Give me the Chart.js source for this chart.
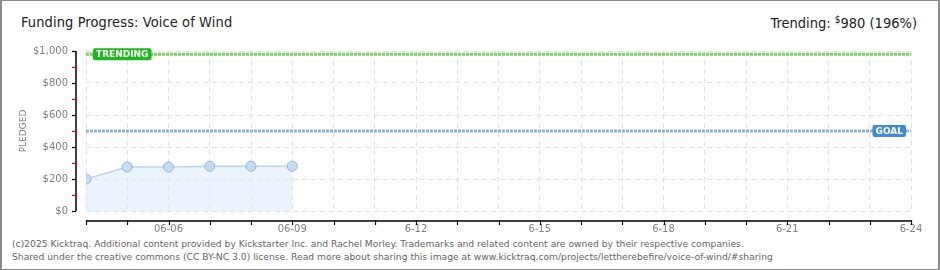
<!DOCTYPE html>
<html>
<head>
<meta charset="utf-8">
<script src="https://cdn.jsdelivr.net/npm/chart.js@4"></script>
<style>
    html, body { margin: 0; padding: 0; background: #fff; }
    #frame { position: relative; border: 1px solid #8a8a8a; border-left-width: 2px; border-right-width: 2px; box-sizing: border-box; width: 940px; height: 270px; }
    #title { position: absolute; left: 19px; top: 13px; font: 14.5px "Liberation Sans Narrow", "DejaVu Sans Condensed", sans-serif; color: #222; letter-spacing: 0.1px; }
    #trend { position: absolute; right: 21px; top: 13px; font: 14.5px "Liberation Sans Narrow", "DejaVu Sans Condensed", sans-serif; color: #222; }
    #trend sup { font-size: 10px; vertical-align: 5px; }
    #footer { position: absolute; left: 10px; top: 236px; font: 9.2px "DejaVu Sans", Verdana, sans-serif; color: #666; line-height: 13px; }
    #wrap { position: absolute; left: 0; top: 26px; width: 936px; height: 209px; }
</style>
</head>
<body>
<div id="frame">
    <div id="title">Funding Progress: Voice of Wind</div>
    <div id="trend">Trending: <sup>$</sup>980 (196%)</div>
    <div id="wrap"><canvas id="fundingChart"></canvas></div>
    <div id="footer">(c)2025 Kicktraq. Additional content provided by Kickstarter Inc. and Rachel Morley. Trademarks and related content are owned by their respective companies.<br>Shared under the creative commons (CC BY-NC 3.0) license. Read more about sharing this image at www.kicktraq.com/projects/lettherebefire/voice-of-wind/#sharing</div>
</div>
<script>
// days of June
const days = [4, 5, 6, 7, 8, 9];
const pledged = [200, 275, 275, 280, 280, 280];
const goal = 500;
const trending = 980;
const firstDay = 4;
const lastDay = 24;
const xTickLabels = { 6: '06-06', 9: '06-09', 12: '6-12', 15: '6-15', 18: '6-18', 21: '6-21', 24: '6-24' };
const yTickLabels = { 0: '$0', 200: '$200', 400: '$400', 600: '$600', 800: '$800', 1000: '$1,000' };

const tickFont = { family: 'DejaVu Sans', size: 10 };

// axes sit 10px off the plot area, with minor red ticks on y
const axisPlugin = {
    id: 'axisLines',
    afterDraw(chart) {
        const { ctx, chartArea, scales } = chart;
        const x = scales.x, y = scales.y;
        const ax = chartArea.left - 10;
        const ay = chartArea.bottom + 10;
        ctx.save();
        ctx.strokeStyle = '#000';
        ctx.lineWidth = 1.5;
        ctx.beginPath();
        ctx.moveTo(ax, chartArea.top);
        ctx.lineTo(ax, chartArea.bottom);
        ctx.moveTo(chartArea.left, ay);
        ctx.lineTo(chartArea.right, ay);
        ctx.stroke();
        for (let v = 0; v <= 1000; v += 100) {
            const py = Math.round(y.getPixelForValue(v)) + 0.5;
            ctx.strokeStyle = v % 200 === 0 ? '#000' : '#e00';
            ctx.lineWidth = 1.2;
            ctx.beginPath();
            ctx.moveTo(ax - 4, py);
            ctx.lineTo(ax, py);
            ctx.stroke();
        }
        ctx.strokeStyle = '#000';
        for (let d = firstDay; d <= lastDay; d++) {
            const px = Math.round(x.getPixelForValue(d)) + 0.5;
            ctx.beginPath();
            ctx.moveTo(px, ay - 1);
            ctx.lineTo(px, ay + 4);
            ctx.stroke();
        }
        ctx.restore();
    }
};

// TRENDING and GOAL tags
function tag(ctx, text, left, cy, color) {
    ctx.font = 'bold 9px "DejaVu Sans"';
    const w = ctx.measureText(text).width + 6;
    ctx.fillStyle = color;
    ctx.beginPath();
    ctx.roundRect(left, cy - 6, w, 12, 2);
    ctx.fill();
    ctx.fillStyle = '#fff';
    ctx.textBaseline = 'middle';
    ctx.fillText(text, left + 3, cy + 0.5);
    return w;
}

const tagPlugin = {
    id: 'tags',
    afterDatasetsDraw(chart) {
        const { ctx, scales } = chart;
        ctx.save();
        tag(ctx, 'TRENDING', scales.x.getPixelForValue(firstDay) + 7, scales.y.getPixelForValue(trending), '#1cb91c');
        ctx.font = 'bold 9px "DejaVu Sans"';
        const gw = ctx.measureText('GOAL').width + 6;
        tag(ctx, 'GOAL', scales.x.getPixelForValue(lastDay) - gw - 5, scales.y.getPixelForValue(goal), '#3d8ad8');
        ctx.restore();
    }
};

new Chart(document.getElementById('fundingChart'), {
    type: 'line',
    data: {
        datasets: [
            {
                label: 'Trending',
                data: [{ x: firstDay, y: trending }, { x: lastDay, y: trending }],
                borderColor: '#70d75c',
                borderWidth: 3,
                borderDash: [3, 1],
                pointRadius: 0,
                fill: false,
            },
            {
                label: 'Goal',
                data: [{ x: firstDay, y: goal }, { x: lastDay, y: goal }],
                borderColor: '#8db2dc',
                borderWidth: 3,
                borderDash: [3, 1],
                pointRadius: 0,
                fill: false,
            },
            {
                label: 'Pledged',
                data: days.map((d, i) => ({ x: d, y: pledged[i] })),
                borderColor: '#b9d5f2',
                borderWidth: 1.5,
                backgroundColor: 'rgba(222,235,250,0.6)',
                pointBackgroundColor: '#c5dcf5',
                pointBorderColor: '#94b6da',
                pointBorderWidth: 1,
                pointRadius: 5,
                tension: 0,
                fill: 'origin',
            },
        ]
    },
    options: {
        responsive: true,
        maintainAspectRatio: false,
        animation: false,
        layout: { padding: { left: 0, right: 27, top: 4, bottom: 0 } },
        plugins: { legend: { display: false }, tooltip: { enabled: false } },
        scales: {
            x: {
                type: 'linear',
                min: firstDay,
                max: lastDay,
                border: { display: false, dash: [5, 4] },
                grid: { color: '#e2e2e2', drawTicks: false },
                afterFit: (scale) => { scale.height = 25; },
                ticks: {
                    stepSize: 1,
                    autoSkip: false,
                    maxRotation: 0,
                    padding: 12,
                    color: '#808080',
                    font: tickFont,
                    callback: (v) => xTickLabels[v] || '',
                },
            },
            y: {
                min: 0,
                max: 1000,
                border: { display: false, dash: [5, 4] },
                grid: { color: '#e2e2e2', drawTicks: false },
                afterFit: (scale) => { scale.width = 84; },
                ticks: {
                    stepSize: 200,
                    padding: 18,
                    color: '#808080',
                    font: tickFont,
                    callback: (v) => yTickLabels[v],
                },
                title: {
                    display: true,
                    text: 'PLEDGED',
                    color: '#808080',
                    font: { family: 'DejaVu Sans', size: 9 },
                    padding: { top: 16, bottom: 0 },
                },
            },
        },
    },
    plugins: [axisPlugin, tagPlugin],
});
</script>
</body>
</html>
